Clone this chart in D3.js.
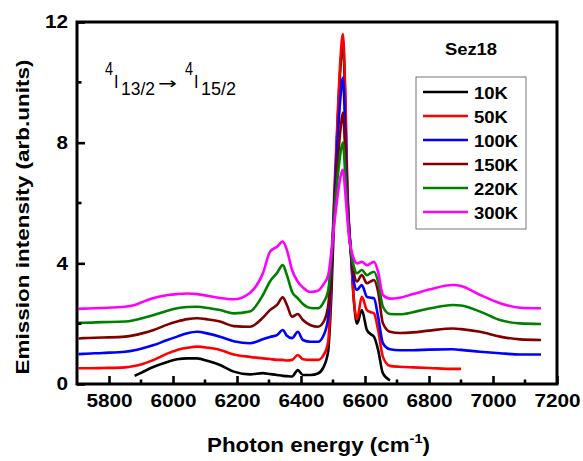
<!DOCTYPE html>
<html><head><meta charset="utf-8">
<script src="https://cdn.jsdelivr.net/npm/d3@7"></script>
<style>
body{margin:0;background:#fff;}
svg{display:block;font-family:Arial,"Liberation Sans",sans-serif;}
</style>
</head><body>
<svg id="c" width="583" height="461"></svg>
<script>
// ---- data ----
const energy = [5705,5720,5780,5850,5880,5900,5940,5980,6013,6045,6075,6110,6147,6190,6240,6281,6303,6325,6343,6356,6372,6390,6406,6430,6453,6470,6485,6495,6505,6515,6524,6531,6538,6544,6550,6556,6565,6575,6590,6606,6618,6628,6641,6656,6678,6709,6750,6800,6875,6900,6960,7022,7084,7150];
const s10K  = [null,null,null,null,0.27,0.37,0.57,0.72,0.82,0.85,0.85,0.76,0.63,0.41,0.32,0.36,0.33,0.30,0.27,0.26,0.25,0.46,0.30,0.30,0.35,0.55,1.10,3.00,6.00,8.80,10.60,11.30,9.50,6.50,5.20,4.30,2.80,2.00,2.45,1.79,1.65,1.57,1.13,0.35,0.12,null,null,null,null,null,null,null,null,null];
const s50K  = [0.52,0.52,0.53,0.55,0.60,0.65,0.80,1.00,1.13,1.20,1.24,1.20,1.13,0.98,0.90,0.85,0.83,0.80,0.80,0.78,0.80,0.96,0.82,0.80,0.80,0.95,1.40,3.60,6.60,9.00,10.90,11.60,9.80,7.00,5.30,4.40,2.80,2.15,2.89,2.45,2.38,2.34,1.79,0.90,0.60,0.57,0.55,0.53,0.50,0.50,null,null,null,null];
const s100K = [0.99,1.00,1.03,1.07,1.12,1.17,1.29,1.45,1.57,1.68,1.73,1.67,1.57,1.42,1.35,1.48,1.56,1.62,1.79,1.60,1.52,1.73,1.46,1.40,1.40,1.60,2.20,3.80,6.30,8.20,9.60,10.15,8.50,6.50,5.20,4.40,3.40,3.12,3.28,2.89,2.86,2.84,2.23,1.35,1.15,1.12,1.12,1.14,1.15,1.13,1.07,1.02,0.98,0.98];
const s150K = [1.51,1.52,1.54,1.57,1.62,1.67,1.79,1.96,2.07,2.15,2.18,2.14,2.07,1.92,1.90,2.20,2.45,2.62,2.87,2.62,2.23,2.32,2.12,1.95,1.90,2.05,2.60,4.00,5.90,7.40,8.50,9.00,7.70,6.10,5.10,4.40,3.70,3.40,3.61,3.34,3.40,3.45,3.06,2.01,1.73,1.69,1.71,1.77,1.84,1.82,1.73,1.57,1.48,1.46];
const s220K = [2.03,2.03,2.05,2.07,2.12,2.17,2.29,2.42,2.51,2.55,2.56,2.52,2.45,2.34,2.40,2.95,3.40,3.68,3.94,3.61,3.06,2.84,2.65,2.52,2.51,2.70,3.10,4.20,5.70,6.90,7.70,8.00,7.00,5.90,5.00,4.40,3.90,3.67,3.78,3.61,3.68,3.72,3.39,2.56,2.32,2.31,2.38,2.50,2.62,2.60,2.40,2.12,2.01,1.99];
const s300K = [2.49,2.50,2.52,2.56,2.62,2.70,2.85,2.94,2.98,3.00,2.98,2.92,2.85,2.81,3.02,3.67,4.38,4.55,4.72,4.44,3.78,3.39,3.20,3.05,3.09,3.30,3.60,4.40,5.40,6.30,6.90,7.10,6.40,5.60,4.90,4.50,4.15,4.00,4.05,3.94,4.00,4.05,3.72,2.95,2.83,2.86,2.98,3.13,3.28,3.25,2.95,2.68,2.53,2.51];
const seriesNames  = ["10K","50K","100K","150K","220K","300K"];
const seriesValues = [s10K,s50K,s100K,s150K,s220K,s300K];
const seriesColors = ["#000000","#ff0000","#0000ff","#800000","#008000","#ff00ff"];
const xTicks = [5800,6000,6200,6400,6600,6800,7000,7200];
const xMinor = [5900,6100,6300,6500,6700,6900,7100];
const yTicks = [0,4,8,12];
const yMinor = [2,6,10];

// ---- layout ----
const svg = d3.select("#c");
const L = 77, R = 557, T = 22, B = 384;
const x = d3.scaleLinear().domain([5700,7200]).range([L,R]);
const y = d3.scaleLinear().domain([0,12]).range([B,T]);

function stretch(sel, f){
  sel.each(function(){
    const w = this.getComputedTextLength();
    this.setAttribute("textLength", w*f);
    this.setAttribute("lengthAdjust","spacingAndGlyphs");
  });
}

svg.append("clipPath").attr("id","clip").append("rect")
  .attr("x",L).attr("y",T).attr("width",R-L).attr("height",B-T);

// curves
const line = d3.line()
  .defined(d => d[1] != null)
  .x(d => x(d[0])).y(d => y(d[1]))
  .curve(d3.curveMonotoneX);
const g = svg.append("g").attr("clip-path","url(#clip)");
seriesValues.forEach((vals,i) => {
  g.append("path")
    .attr("d", line(energy.map((e,j)=>[e, vals[j]])))
    .attr("fill","none").attr("stroke",seriesColors[i])
    .attr("stroke-width",2.6).attr("stroke-linejoin","round");
});

// axes
const xAxis = svg.append("g").attr("transform",`translate(0,${B})`)
  .call(d3.axisBottom(x).tickValues(xTicks).tickSize(-8).tickPadding(10).tickFormat(d3.format("d")));
const yAxis = svg.append("g").attr("transform",`translate(${L},0)`)
  .call(d3.axisLeft(y).tickValues(yTicks).tickSize(-8).tickPadding(9).tickFormat(d3.format("d")));
[xAxis,yAxis].forEach(a => {
  a.select(".domain").remove();
  a.selectAll(".tick line").attr("stroke","#000").attr("stroke-width",2.6);
  a.selectAll(".tick text").attr("font-size","18.5px").attr("font-weight","bold")
    .attr("font-family","Arial, 'Liberation Sans', sans-serif").attr("fill","#000");
});
stretch(xAxis.selectAll(".tick text"),1.12);
stretch(yAxis.selectAll(".tick text"),1.12);
svg.append("g").selectAll("line").data(xMinor).join("line")
  .attr("x1",d=>x(d)).attr("x2",d=>x(d)).attr("y1",B).attr("y2",B-4.5)
  .attr("stroke","#000").attr("stroke-width",2.6);
svg.append("g").selectAll("line").data(yMinor).join("line")
  .attr("y1",d=>y(d)).attr("y2",d=>y(d)).attr("x1",L).attr("x2",L+4.5)
  .attr("stroke","#000").attr("stroke-width",2.6);

// frame
svg.append("rect").attr("x",L).attr("y",T).attr("width",R-L).attr("height",B-T)
  .attr("fill","none").attr("stroke","#000").attr("stroke-width",3);

// axis titles
const xt = svg.append("text").attr("x",(207+430)/2).attr("y",452)
  .attr("text-anchor","middle").attr("font-weight","bold").attr("font-size","20px");
xt.append("tspan").text("Photon energy (cm");
xt.append("tspan").attr("font-size","13px").attr("dy",-9).text("-1");
xt.append("tspan").attr("dy",9).text(")");
xt.attr("textLength",223).attr("lengthAdjust","spacingAndGlyphs");

svg.append("text").attr("transform","translate(29,217) rotate(-90)")
  .attr("text-anchor","middle").attr("font-weight","bold").attr("font-size","18px")
  .attr("textLength",315).attr("lengthAdjust","spacingAndGlyphs")
  .text("Emission intensity (arb.units)");

// transition annotation
const ann = svg.append("g").attr("font-size","18px").attr("fill","#000");
function annText(tx, ty, s, w, extra){
  const t = ann.append("text").attr("x",tx).attr("y",ty).text(s);
  if (extra) extra(t);
  if (w) t.attr("textLength",w).attr("lengthAdjust","spacingAndGlyphs");
  return t;
}
annText(105, 75, "4", 8);
annText(114, 88, "I", 4.5);
annText(121, 95, "13/2", 34);
annText(158, 89, "\u2192", 19, t=>t.attr("font-family","'DejaVu Sans', sans-serif").attr("font-size","16px"));
annText(185, 75, "4", 8);
annText(194, 88, "I", 4.5);
annText(201, 95, "15/2", 35);

// sample name
const sz = svg.append("text").attr("x",471).attr("y",55).attr("text-anchor","middle")
  .attr("font-weight","bold").attr("font-size","16px").text("Sez18");
stretch(sz,1.15);

// legend
svg.append("rect").attr("x",416).attr("y",77).attr("width",110).attr("height",152)
  .attr("fill","#fff").attr("stroke","#777").attr("stroke-width",1);
const rowY = d3.scalePoint().domain(seriesNames).range([92,212]);
const lg = svg.append("g").selectAll("g").data(seriesNames).join("g")
  .attr("transform",d=>`translate(0,${rowY(d)})`);
lg.append("line").attr("x1",423).attr("x2",468).attr("y1",0).attr("y2",0)
  .attr("stroke",(d,i)=>seriesColors[i]).attr("stroke-width",2.6);
const lt = lg.append("text").attr("x",474).attr("y",6.5).attr("font-weight","bold")
  .attr("font-size","16.5px").text(d=>d);
stretch(lt,1.12);
</script>
</body></html>
